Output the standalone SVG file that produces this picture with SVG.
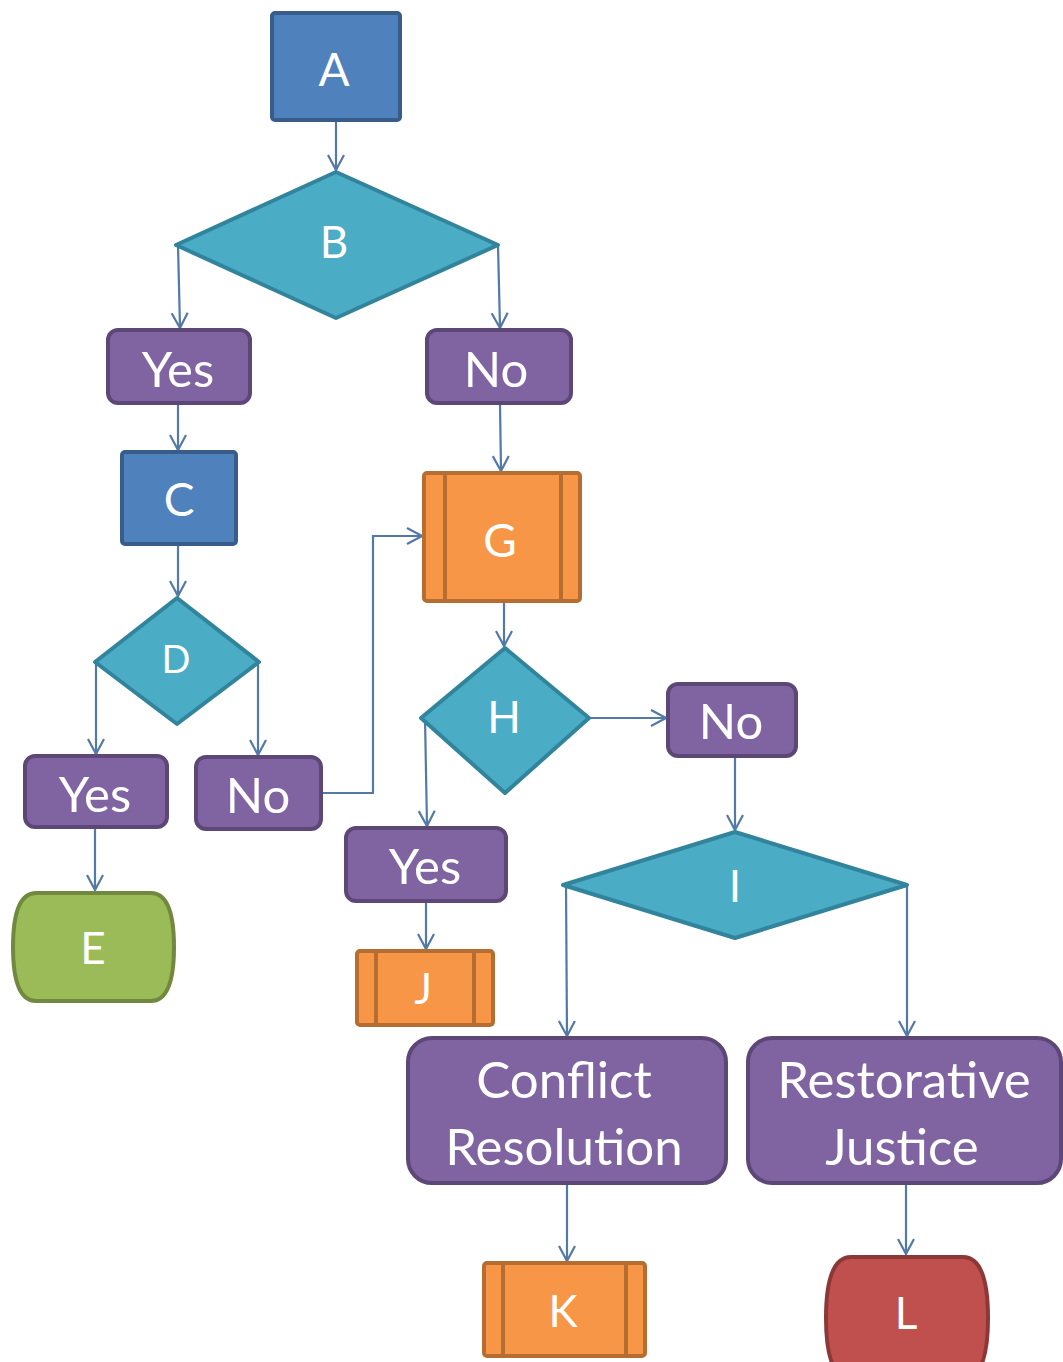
<svg xmlns="http://www.w3.org/2000/svg" width="1063" height="1362" viewBox="0 0 1063 1362">
<style>
.blue{fill:#4f81bd;stroke:#385d8a;stroke-width:4}
.dia{fill:#4bacc6;stroke:#31849b;stroke-width:4;stroke-linejoin:round}
.pur{fill:#8064a2;stroke:#5c4776;stroke-width:4}
.org{fill:#f79646;stroke:#b66d31;stroke-width:4}
.orgl{stroke:#b66d31;stroke-width:4;fill:none}
.grn{fill:#9bbb59;stroke:#71893f;stroke-width:4}
.red{fill:#c0504d;stroke:#8c3836;stroke-width:4}
.t{font-family:Lato,"Open Sans",sans-serif;fill:#ffffff;text-anchor:middle;dominant-baseline:central}
.c{fill:none;stroke:#5279a8;stroke-width:2.2;marker-end:url(#ah)}
</style>
<defs>
<marker id="ah" markerUnits="userSpaceOnUse" markerWidth="22" markerHeight="22" viewBox="0 0 22 22" refX="20" refY="11" orient="auto">
<path d="M5,3 L20,11 L5,19" fill="none" stroke="#5279a8" stroke-width="2.2"/>
</marker>
</defs>
<g id="connectors">
<path class="c" d="M336,121 L336,170"/>
<path class="c" d="M178,245 L180,328"/>
<path class="c" d="M498,245 L500,328"/>
<path class="c" d="M178,404 L178,450"/>
<path class="c" d="M178,545 L178,596"/>
<path class="c" d="M96,662 L96,754"/>
<path class="c" d="M258,662 L258,755"/>
<path class="c" d="M95,828 L95,890"/>
<path class="c" d="M321,793 L373,793 L373,536 L422,536"/>
<path class="c" d="M500,404 L501,471"/>
<path class="c" d="M504,602 L504,646"/>
<path class="c" d="M589,718 L666,718"/>
<path class="c" d="M425,718 L427,826"/>
<path class="c" d="M426,902 L426,949"/>
<path class="c" d="M735,757 L735,830"/>
<path class="c" d="M566,885 L567,1036"/>
<path class="c" d="M907,885 L907,1036"/>
<path class="c" d="M567,1184 L567,1261"/>
<path class="c" d="M906,1184 L906,1254"/>
</g>
<g id="A"><rect class="blue" x="272" y="13" width="128" height="107" rx="3"/><text class="t" x="334" y="68" font-size="46">A</text></g>
<g id="B"><polygon class="dia" points="336,172 498,245 336,318 176,245"/><text class="t" x="334" y="241" font-size="44">B</text></g>
<g id="Yes1"><rect class="pur" x="108" y="330" width="142" height="73" rx="10"/><text class="t" x="178" y="368" font-size="49">Yes</text></g>
<g id="No1"><rect class="pur" x="427" y="330" width="144" height="73" rx="10"/><text class="t" x="496" y="368" font-size="49">No</text></g>
<g id="C"><rect class="blue" x="122" y="452" width="114" height="92" rx="3"/><text class="t" x="179" y="498" font-size="46">C</text></g>
<g id="D"><polygon class="dia" points="177,598 259,662 177,724 95,662"/><text class="t" x="176" y="658" font-size="38">D</text></g>
<g id="Yes2"><rect class="pur" x="25" y="756" width="142" height="71" rx="10"/><text class="t" x="95" y="793" font-size="49">Yes</text></g>
<g id="No2"><rect class="pur" x="196" y="757" width="125" height="72" rx="10"/><text class="t" x="258" y="794" font-size="49">No</text></g>
<g id="E"><path class="grn" d="M36,893 L151,893 Q174,893 174,947 Q174,1001 151,1001 L36,1001 Q13,1001 13,947 Q13,893 36,893 Z"/><text class="t" x="93" y="947" font-size="44">E</text></g>
<g id="G"><rect class="org" x="424" y="473" width="156" height="128" rx="3"/><line class="orgl" x1="445" y1="473" x2="445" y2="601"/><line class="orgl" x1="561" y1="473" x2="561" y2="601"/><text class="t" x="500" y="539" font-size="46">G</text></g>
<g id="H"><polygon class="dia" points="505,648 589,718 505,793 421,718"/><text class="t" x="504" y="716" font-size="44">H</text></g>
<g id="No3"><rect class="pur" x="668" y="684" width="128" height="72" rx="10"/><text class="t" x="731" y="720" font-size="49">No</text></g>
<g id="Yes3"><rect class="pur" x="346" y="828" width="160" height="73" rx="10"/><text class="t" x="425" y="865" font-size="49">Yes</text></g>
<g id="J"><rect class="org" x="357" y="951" width="136" height="74" rx="3"/><line class="orgl" x1="376" y1="951" x2="376" y2="1025"/><line class="orgl" x1="474" y1="951" x2="474" y2="1025"/><text class="t" x="423" y="988" font-size="42">J</text></g>
<g id="I"><polygon class="dia" points="735,832 907,885 735,938 563,885"/><text class="t" x="735" y="885" font-size="44">I</text></g>
<g id="CR"><rect class="pur" x="408" y="1038" width="318" height="145" rx="24"/><text class="t" x="564" y="1078" font-size="51">Conflict</text><text class="t" x="564" y="1145" font-size="51">Resolution</text></g>
<g id="RJ"><rect class="pur" x="748" y="1038" width="313" height="145" rx="24"/><text class="t" x="904" y="1078" font-size="51">Restorative</text><text class="t" x="902" y="1145" font-size="51">Justice</text></g>
<g id="K"><rect class="org" x="484" y="1263" width="161" height="93" rx="3"/><line class="orgl" x1="503" y1="1263" x2="503" y2="1356"/><line class="orgl" x1="626" y1="1263" x2="626" y2="1356"/><text class="t" x="563" y="1310" font-size="44">K</text></g>
<g id="L"><path class="red" d="M851,1257 L963,1257 Q988,1257 988,1318 Q988,1379 963,1379 L851,1379 Q826,1379 826,1318 Q826,1257 851,1257 Z"/><text class="t" x="906" y="1312" font-size="44">L</text></g>
</svg>
